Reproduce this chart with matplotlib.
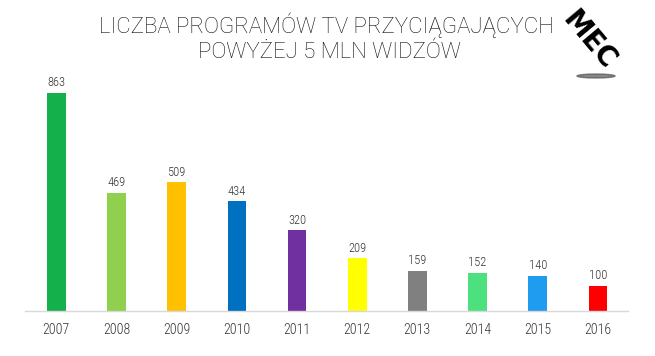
import matplotlib.pyplot as plt
from matplotlib.patches import Ellipse

lata = ['2007', '2008', '2009', '2010', '2011', '2012', '2013', '2014', '2015', '2016']
wartosci = [863, 469, 509, 434, 320, 209, 159, 152, 140, 100]
kolory = ['#13b04b', '#8fd14f', '#ffc000', '#0070c0', '#7030a0',
          '#ffff00', '#808080', '#4ce07f', '#1f9bef', '#ff0000']

plt.rcParams['font.family'] = ['Roboto Condensed', 'Roboto', 'DejaVu Sans']

fig = plt.figure(figsize=(6.55, 3.56), dpi=100)
ax = fig.add_axes([25/655, 45/356, 603/655, 252.6/356])

x = range(len(lata))
ax.bar(x, wartosci, width=0.31, color=kolory, zorder=2)
for i, v in enumerate(wartosci):
    ax.text(i, v + 14, str(v), ha='center', va='bottom', fontsize=9, color='#333333',
            fontweight='light')

ax.set_xlim(-0.52, 9.5)
ax.set_ylim(0, 1000)
ax.set_xticks(list(x))
ax.set_xticklabels(lata, fontsize=10, color='#333333', fontweight='light')
ax.tick_params(axis='x', length=0, pad=9)
ax.set_yticks([])
for s in ['top', 'right', 'left']:
    ax.spines[s].set_visible(False)
ax.spines['bottom'].set_color('#d8d8d8')
ax.spines['bottom'].set_linewidth(1)

# tytuł
fig.text(326/655, 1 - 25/356, 'LICZBA PROGRAMÓW TV PRZYCIĄGAJĄCYCH', ha='center', va='center',
         fontsize=16, color='#111111', fontweight='light', family=['Roboto', 'DejaVu Sans'])
fig.text(329/655, 1 - 52/356, 'POWYŻEJ 5 MLN WIDZÓW', ha='center', va='center',
         fontsize=16, color='#111111', fontweight='light', family=['Roboto', 'DejaVu Sans'])

# logo MEC
fig.text(589/655, 1 - 40/356, 'MEC', ha='center', va='center', fontsize=20,
         fontweight='heavy', rotation=-50, color='black', family=['DejaVu Sans'])
fig.patches.append(Ellipse((596/655, 1 - 76/356), 38/655, 4/356, transform=fig.transFigure,
                           color='#555555', alpha=0.7))

fig.savefig('out.png', dpi=100, facecolor='white')
